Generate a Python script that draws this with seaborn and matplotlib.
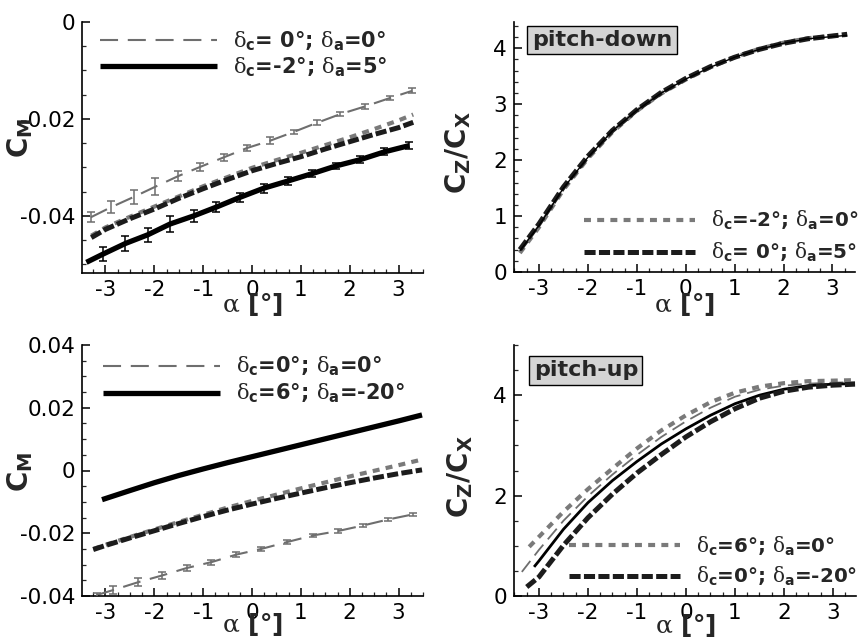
import numpy as np
import pandas as pd
import matplotlib
matplotlib.use("Agg")
import matplotlib.pyplot as plt
import seaborn as sns
from matplotlib.ticker import MultipleLocator, FormatStrFormatter

# ---------------- data ----------------
# top-left : C_M, pitch-down
tl_exp0_alpha = [-3.30, -2.88, -2.42, -1.98, -1.51, -1.06, -0.57, -0.10, 0.37, 0.85, 1.33, 1.81, 2.32, 2.82, 3.28]
tl_exp0_cm = [-0.0403, -0.0382, -0.0361, -0.0340, -0.0318, -0.0299, -0.0279, -0.0260, -0.0245, -0.0227, -0.0208, -0.0190, -0.0174, -0.0157, -0.0142]
tl_exp0_err = [0.0010, 0.0012, 0.0014, 0.0018, 0.0010, 0.0008, 0.0007, 0.0007, 0.0007, 0.0005, 0.0005, 0.0005, 0.0005, 0.0005, 0.0005]

tl_exp1_alpha = [-3.39, -3.05, -2.59, -2.13, -1.68, -1.19, -0.73, -0.25, 0.24, 0.74, 1.23, 1.72, 2.22, 2.71, 3.22]
tl_exp1_cm = [-0.0496, -0.0479, -0.0457, -0.0439, -0.0417, -0.0400, -0.0382, -0.0362, -0.0343, -0.0328, -0.0313, -0.0297, -0.0284, -0.0268, -0.0255]
tl_exp1_err = [0.0, 0.0015, 0.0015, 0.0014, 0.0017, 0.0012, 0.0010, 0.0009, 0.0009, 0.0008, 0.0007, 0.0007, 0.0007, 0.0007, 0.0007]

tl_cfd_alpha = [-3.29, -3.0, -2.5, -2.0, -1.5, -1.0, -0.5, 0.0, 0.5, 1.0, 1.5, 2.0, 2.5, 3.0, 3.3]
tl_cfd_gray = [-0.0441, -0.0424, -0.0402, -0.0381, -0.0360, -0.0339, -0.0320, -0.0301, -0.0285, -0.0270, -0.0254, -0.0238, -0.0221, -0.0203, -0.0191]
tl_cfd_black = [-0.0445, -0.0428, -0.0406, -0.0386, -0.0364, -0.0344, -0.0325, -0.0307, -0.0292, -0.0278, -0.0262, -0.0247, -0.0232, -0.0218, -0.0207]

# top-right : C_Z/C_X, pitch-down
tr_alpha = [-3.39, -3.0, -2.5, -2.0, -1.5, -1.0, -0.5, 0.0, 0.5, 1.0, 1.5, 2.0, 2.5, 3.0, 3.3]
tr_gray = [0.34, 0.80, 1.47, 2.03, 2.50, 2.88, 3.19, 3.44, 3.66, 3.84, 3.99, 4.10, 4.18, 4.22, 4.24]
tr_black = [0.40, 0.86, 1.52, 2.07, 2.53, 2.90, 3.21, 3.46, 3.67, 3.84, 3.98, 4.09, 4.17, 4.22, 4.25]
tr_exp = [0.38, 0.83, 1.50, 2.05, 2.52, 2.89, 3.20, 3.45, 3.66, 3.84, 3.98, 4.09, 4.17, 4.21, 4.23]

# bottom-left : C_M, pitch-up
bl_exp0_alpha = [-3.18, -2.84, -2.33, -1.85, -1.34, -0.83, -0.32, 0.19, 0.72, 1.25, 1.76, 2.28, 2.79, 3.29]
bl_exp0_cm = [-0.0397, -0.0381, -0.0356, -0.0335, -0.0311, -0.0292, -0.0268, -0.0250, -0.0228, -0.0207, -0.0193, -0.0175, -0.0156, -0.0140]
bl_exp0_err = [0.0008, 0.0013, 0.0012, 0.0010, 0.0009, 0.0008, 0.0007, 0.0006, 0.0006, 0.0005, 0.0005, 0.0005, 0.0005, 0.0005]

bl_exp1_alpha = [-3.07, -2.5, -2.0, -1.5, -1.0, -0.5, 0.0, 0.5, 1.0, 1.5, 2.0, 2.5, 3.0, 3.48]
bl_exp1_cm = [-0.0093, -0.0064, -0.0039, -0.0016, 0.0005, 0.0025, 0.0044, 0.0063, 0.0082, 0.0101, 0.0120, 0.0139, 0.0158, 0.0177]

bl_cfd_alpha = [-3.25, -3.0, -2.5, -2.0, -1.5, -1.0, -0.5, 0.0, 0.5, 1.0, 1.5, 2.0, 2.5, 3.0, 3.48]
bl_cfd_gray = [-0.0250, -0.0237, -0.0212, -0.0188, -0.0164, -0.0141, -0.0118, -0.0097, -0.0077, -0.0057, -0.0038, -0.0019, -0.0001, 0.0017, 0.0035]
bl_cfd_black = [-0.0252, -0.0239, -0.0215, -0.0192, -0.0169, -0.0147, -0.0126, -0.0107, -0.0089, -0.0072, -0.0055, -0.0039, -0.0024, -0.0010, 0.0002]

# bottom-right : C_Z/C_X, pitch-up
br_gray_alpha = [-3.2, -3.0, -2.5, -2.0, -1.5, -1.0, -0.5, 0.0, 0.5, 1.0, 1.5, 2.0, 2.5, 3.0, 3.45]
br_gray = [0.98, 1.18, 1.68, 2.13, 2.54, 2.94, 3.30, 3.60, 3.86, 4.05, 4.17, 4.24, 4.28, 4.29, 4.30]
br_thin_alpha = [-3.35, -3.0, -2.5, -2.0, -1.5, -1.0, -0.5, 0.0, 0.5, 1.0, 1.5, 2.0, 2.5, 3.0, 3.45]
br_thin = [0.48, 0.92, 1.50, 1.99, 2.42, 2.81, 3.17, 3.48, 3.75, 3.97, 4.11, 4.19, 4.23, 4.25, 4.26]
br_solid_alpha = [-3.1, -3.0, -2.5, -2.0, -1.5, -1.0, -0.5, 0.0, 0.5, 1.0, 1.5, 2.0, 2.5, 3.0, 3.45]
br_solid = [0.58, 0.70, 1.33, 1.86, 2.30, 2.68, 3.03, 3.33, 3.60, 3.83, 4.00, 4.12, 4.19, 4.22, 4.23]
br_black_alpha = [-3.25, -3.0, -2.5, -2.0, -1.5, -1.0, -0.5, 0.0, 0.5, 1.0, 1.5, 2.0, 2.5, 3.0, 3.45]
br_black = [0.18, 0.38, 1.01, 1.56, 2.03, 2.45, 2.82, 3.17, 3.47, 3.73, 3.94, 4.08, 4.16, 4.20, 4.22]

# texts
lab_tl = [r"$\mathrm{\delta}_\mathbf{c}$= 0°; $\mathrm{\delta}_\mathbf{a}$=0°",
          r"$\mathrm{\delta}_\mathbf{c}$=-2°; $\mathrm{\delta}_\mathbf{a}$=5°"]
lab_tr = [r"$\mathrm{\delta}_\mathbf{c}$=-2°; $\mathrm{\delta}_\mathbf{a}$=0°",
          r"$\mathrm{\delta}_\mathbf{c}$= 0°; $\mathrm{\delta}_\mathbf{a}$=5°"]
lab_bl = [r"$\mathrm{\delta}_\mathbf{c}$=0°; $\mathrm{\delta}_\mathbf{a}$=0°",
          r"$\mathrm{\delta}_\mathbf{c}$=6°; $\mathrm{\delta}_\mathbf{a}$=-20°"]
lab_br = [r"$\mathrm{\delta}_\mathbf{c}$=6°; $\mathrm{\delta}_\mathbf{a}$=0°",
          r"$\mathrm{\delta}_\mathbf{c}$=0°; $\mathrm{\delta}_\mathbf{a}$=-20°"]
xlabel = r"$\mathrm{\alpha}$ [°]"
ylab_cm = r"$\mathbf{C}_\mathbf{M}$"
ylab_cz = r"$\mathbf{C}_\mathbf{Z}\mathbf{/C}_\mathbf{X}$"

# ---------------- style ----------------
sns.set_theme(style="white")
plt.rcParams["font.family"] = ["DejaVu Sans"]
plt.rcParams["mathtext.fontset"] = "custom"
plt.rcParams["mathtext.rm"] = "DejaVu Serif"
plt.rcParams["mathtext.it"] = "DejaVu Serif:italic"
plt.rcParams["mathtext.bf"] = "DejaVu Sans:bold"
plt.rcParams["axes.unicode_minus"] = False
plt.rcParams["lines.scale_dashes"] = False
plt.rcParams["lines.solid_capstyle"] = "butt"
plt.rcParams["lines.dash_capstyle"] = "butt"

GRAY = "#7a7a7a"
EXPGRAY = "#6e6e6e"
DARK = "#1c1c1c"

ST_EXP0 = dict(color=EXPGRAY, linewidth=1.5, linestyle=(0, (13, 7)))
ST_EXP1 = dict(color="black", linewidth=3.8, linestyle="-")
ST_CG = dict(color=GRAY, linewidth=3.0, linestyle=(0, (5, 4.5)))
ST_CB = dict(color=DARK, linewidth=3.6, linestyle=(0, (8, 2.4)))

W, H = 865, 639
fig = plt.figure(figsize=(W / 100, H / 100), dpi=100)


def box(l, t, r, b):
    return [l / W, 1 - b / H, (r - l) / W, (b - t) / H]


ax_tl = fig.add_axes(box(82, 22, 423, 273))
ax_tr = fig.add_axes(box(514, 22, 855, 272))
ax_bl = fig.add_axes(box(82, 345, 423, 596))
ax_br = fig.add_axes(box(514, 345, 856, 596))


def line(ax, x, y, st):
    sns.lineplot(x=x, y=y, ax=ax, sort=False, estimator=None, **st)
    return ax.lines[-1]


def ebars(ax, x, y, e, color):
    x = np.asarray(x); y = np.asarray(y); e = np.asarray(e)
    m = e > 0
    ax.errorbar(x[m], y[m], yerr=e[m], fmt="none", ecolor=color,
                elinewidth=1.1, capsize=3, capthick=1.1, zorder=5)


def style_axes(ax, xlim, ylim, ymaj, ymin, ylabel, ylab_xy, xlab_y):
    ax.set_xlim(*xlim)
    ax.set_ylim(*ylim)
    ax.xaxis.set_major_locator(MultipleLocator(1))
    ax.xaxis.set_minor_locator(MultipleLocator(0.25))
    ax.yaxis.set_major_locator(MultipleLocator(ymaj))
    ax.yaxis.set_minor_locator(MultipleLocator(ymin))
    ax.xaxis.set_major_formatter(FormatStrFormatter("%g"))
    ax.yaxis.set_major_formatter(FormatStrFormatter("%g"))
    ax.tick_params(which="major", direction="in", length=6, width=1.1,
                   labelsize=15.5, pad=5, colors="black")
    ax.tick_params(which="minor", direction="in", length=3, width=0.9)
    ax.tick_params(axis="x", which="both", bottom=True, top=False)
    ax.tick_params(axis="y", which="both", left=True, right=False)
    sns.despine(ax=ax)
    for s in ("left", "bottom"):
        ax.spines[s].set_linewidth(1.2)
        ax.spines[s].set_color("black")
    ax.set_xlabel(xlabel, fontsize=18, fontweight="bold", va="center")
    ax.xaxis.set_label_coords(0.5, xlab_y)
    ax.set_ylabel(ylabel, fontsize=20, va="center")
    ax.yaxis.set_label_coords(*ylab_xy)
    ax.set_facecolor("white")


def legend(ax, handles, labels, loc, anchor, spacing, size):
    lg = ax.legend(handles, labels, loc=loc, bbox_to_anchor=anchor,
                   frameon=False, handlelength=5.6, handletextpad=0.8,
                   labelspacing=spacing, borderpad=0, borderaxespad=0,
                   prop=dict(weight="bold", size=size))
    return lg


def tag(ax, text, x, y):
    ax.text(x, y, text, transform=ax.transAxes, ha="center", va="center",
            fontsize=16, fontweight="bold",
            bbox=dict(boxstyle="square,pad=0.2", facecolor="#d4d4d4",
                      edgecolor="black", linewidth=1.0))


# ---- top-left ----
ax = ax_tl
line(ax, tl_cfd_alpha, tl_cfd_gray, ST_CG)
line(ax, tl_cfd_alpha, tl_cfd_black, ST_CB)
h0 = line(ax, tl_exp0_alpha, tl_exp0_cm, ST_EXP0)
ebars(ax, tl_exp0_alpha, tl_exp0_cm, tl_exp0_err, EXPGRAY)
h1 = line(ax, tl_exp1_alpha, tl_exp1_cm, ST_EXP1)
ebars(ax, tl_exp1_alpha, tl_exp1_cm, tl_exp1_err, "black")
style_axes(ax, (-3.48, 3.50), (-0.0518, 0.0), 0.02, 0.005, ylab_cm, (-0.18, 0.54), -0.127)
legend(ax, [h0, h1], lab_tl, "upper left", (0.053, 0.97), 0.12, 15)

# ---- top-right ----
ax = ax_tr
g = line(ax, tr_alpha, tr_gray, ST_CG)
b = line(ax, tr_alpha, tr_black, ST_CB)
line(ax, tr_alpha, tr_exp, dict(color="black", linewidth=1.0, linestyle="-"))
style_axes(ax, (-3.51, 3.46), (0, 4.47), 1, 0.2, ylab_cz, (-0.163, 0.476), -0.132)
legend(ax, [g, b], lab_tr, "lower left", (0.205, 0.03), 0.45, 14.3)
tag(ax, "pitch-down", 0.258, 0.928)

# ---- bottom-left ----
ax = ax_bl
line(ax, bl_cfd_alpha, bl_cfd_gray, ST_CG)
line(ax, bl_cfd_alpha, bl_cfd_black, ST_CB)
h0 = line(ax, bl_exp0_alpha, bl_exp0_cm, ST_EXP0)
ebars(ax, bl_exp0_alpha, bl_exp0_cm, bl_exp0_err, EXPGRAY)
h1 = line(ax, bl_exp1_alpha, bl_exp1_cm, ST_EXP1)
style_axes(ax, (-3.48, 3.50), (-0.04, 0.04), 0.02, 0.005, ylab_cm, (-0.18, 0.494), -0.112)
legend(ax, [h0, h1], lab_bl, "upper left", (0.062, 0.96), 0.18, 15)

# ---- bottom-right ----
ax = ax_br
g = line(ax, br_gray_alpha, br_gray, ST_CG)
line(ax, br_thin_alpha, br_thin, dict(color=EXPGRAY, linewidth=1.3, linestyle=(0, (10, 5))))
line(ax, br_solid_alpha, br_solid, dict(color="black", linewidth=2.0, linestyle="-"))
b = line(ax, br_black_alpha, br_black, ST_CB)
style_axes(ax, (-3.51, 3.47), (0, 5.0), 2, 0.5, ylab_cz, (-0.158, 0.474), -0.116)
legend(ax, [g, b], lab_br, "lower left", (0.16, 0.03), 0.38, 14.3)
tag(ax, "pitch-up", 0.21, 0.90)

fig.savefig("out.png", dpi=100)
